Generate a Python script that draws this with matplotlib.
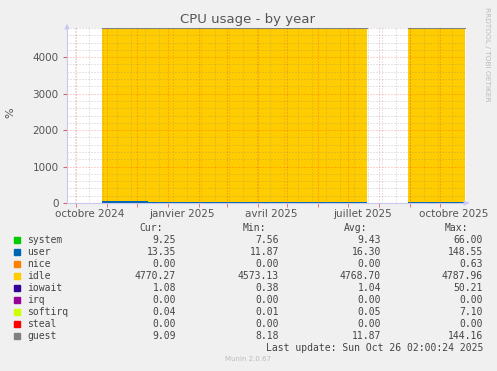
import numpy as np
import pandas as pd
import matplotlib
matplotlib.use("Agg")
import matplotlib.pyplot as plt
import matplotlib.dates as mdates

# data segments (start, end); the gap Jul 20 - Aug 30 2025 has no data
seg_start = ["2024-10-27", "2024-12-12", "2025-08-30"]
seg_end = ["2024-12-12", "2025-07-20", "2025-10-26"]

names = ["system", "user", "nice", "idle", "iowait", "irq", "softirq", "steal", "guest"]
colors = ["#00CC00", "#0066B3", "#FF8000", "#FFCC00", "#330099",
          "#990099", "#CCFF00", "#FF0000", "#808080"]

system = [10.5, 9.3, 9.2]
user = [55.0, 13.5, 13.3]
nice = [0.02, 0.0, 0.0]
idle = [4715.0, 4764.0, 4765.0]
iowait = [1.6, 1.0, 1.1]
irq = [0.0, 0.0, 0.0]
softirq = [0.06, 0.05, 0.04]
steal = [0.0, 0.0, 0.0]
guest = [14.0, 10.2, 9.8]
series = [system, user, nice, idle, iowait, irq, softirq, steal, guest]

cur = ["9.25", "13.35", "0.00", "4770.27", "1.08", "0.00", "0.04", "0.00", "9.09"]
mins = ["7.56", "11.87", "0.00", "4573.13", "0.38", "0.00", "0.01", "0.00", "8.18"]
avg = ["9.43", "16.30", "0.00", "4768.70", "1.04", "0.00", "0.05", "0.00", "11.87"]
maxs = ["66.00", "148.55", "0.63", "4787.96", "50.21", "0.00", "7.10", "0.00", "144.16"]

x_start = pd.Timestamp("2024-09-22")
x_end = pd.Timestamp("2025-10-27")
label_dates = ["2024-10-01", "2025-01-01", "2025-04-01", "2025-07-01", "2025-10-01"]
label_text = ["octobre 2024", "janvier 2025", "avril 2025", "juillet 2025", "octobre 2025"]

W, H = 497, 371
fig = plt.figure(figsize=(W / 100, H / 100), dpi=100)
fig.patch.set_facecolor("#F0F0F0")
ax = fig.add_axes([67 / W, 1 - 203 / H, 399 / W, 175 / H])
ax.set_facecolor("white")

for s, e, *vals in zip(seg_start, seg_end, *series):
    xs = mdates.date2num([pd.Timestamp(s), pd.Timestamp(e)])
    base = 0.0
    for v, c in zip(vals, colors):
        ax.fill_between(xs, base, base + v, color=c, linewidth=0, zorder=1)
        base += v
    # top edge of the stack (guest line)
    ax.plot(xs, [base, base], color="#808080", lw=0.8, zorder=2)

ax.set_xlim(mdates.date2num(x_start), mdates.date2num(x_end))
ax.set_ylim(0, 4800)

# grid drawn over data like rrdtool
minor_kw = dict(color="#808080", alpha=0.4, lw=0.72, ls=(0, (1, 2)), zorder=3)
major_kw = dict(color="#ff0000", alpha=0.35, lw=0.72, ls=(0, (1, 2)), zorder=3)
for yv in range(200, 4801, 200):
    ax.axhline(yv, **(major_kw if yv % 1000 == 0 else minor_kw))

weeks = pd.date_range("2024-09-30", x_end, freq="14D")
for d in weeks:
    ax.axvline(mdates.date2num(d), **minor_kw)
months = pd.date_range("2024-10-01", x_end, freq="MS")
for d in months:
    ax.axvline(mdates.date2num(d), **major_kw)

for sp in ["top", "right"]:
    ax.spines[sp].set_visible(False)
for sp in ["left", "bottom"]:
    ax.spines[sp].set_color("#c8c8f0")
    ax.spines[sp].set_linewidth(0.8)
    ax.spines[sp].set_zorder(4)

# arrows at the axis ends
ax.annotate("", xy=(0, 1.04), xytext=(0, 0.98), xycoords="axes fraction",
            arrowprops=dict(arrowstyle="-|>", color="#c8c8f0", lw=0.8,
                            mutation_scale=7), annotation_clip=False)
ax.annotate("", xy=(1.015, 0), xytext=(0.995, 0), xycoords="axes fraction",
            arrowprops=dict(arrowstyle="-|>", color="#c8c8f0", lw=0.8,
                            mutation_scale=7), annotation_clip=False)

ax.set_yticks([0, 1000, 2000, 3000, 4000])
ax.tick_params(axis="y", length=3, color="#e06060", labelsize=7.5,
               labelcolor="#555555", pad=3)
ax.set_xticks(mdates.date2num([pd.Timestamp(d) + pd.Timedelta(days=14) for d in label_dates]))
ax.set_xticklabels(label_text)
ax.tick_params(axis="x", which="major", length=0, labelsize=7.5,
               labelcolor="#555555", pad=4)
ax.set_xticks(mdates.date2num(months), minor=True)
ax.tick_params(axis="x", which="minor", length=3, color="#e06060")

fig.text(248 / W, 1 - 19 / H, "CPU usage - by year", ha="center", va="center",
         fontsize=9.5, color="#555555")
fig.text(10 / W, 1 - 113 / H, "%", ha="center", va="center", rotation=90,
         fontsize=8, color="#555555")
fig.text(487 / W, 1 - 54 / H, "RRDTOOL / TOBI OETIKER", ha="center", va="center",
         rotation=270, fontsize=5.3, color="#bbbbbb")

mono = dict(family="DejaVu Sans Mono", fontsize=7, color="#444444", va="center")
row0 = 240
fig.text(163 / W, 1 - 228 / H, "Cur:", ha="right", **mono)
fig.text(266 / W, 1 - 228 / H, "Min:", ha="right", **mono)
fig.text(367 / W, 1 - 228 / H, "Avg:", ha="right", **mono)
fig.text(468 / W, 1 - 228 / H, "Max:", ha="right", **mono)
for i, n in enumerate(names):
    y = 1 - (row0 + 12 * i) / H
    fig.patches.append(plt.Rectangle((14 / W, y - 3 / H), 6 / W, 6 / H,
                                     transform=fig.transFigure, color=colors[i]))
    fig.text(27 / W, y, n, ha="left", **mono)
    fig.text(176 / W, y, cur[i], ha="right", **mono)
    fig.text(279 / W, y, mins[i], ha="right", **mono)
    fig.text(381 / W, y, avg[i], ha="right", **mono)
    fig.text(483 / W, y, maxs[i], ha="right", **mono)

fig.text(483 / W, 1 - 348 / H, "Last update: Sun Oct 26 02:00:24 2025", ha="right", **mono)
fig.text(248 / W, 1 - 359 / H, "Munin 2.0.67", ha="center", va="center",
         fontsize=5, color="#bbbbbb")

fig.savefig("out.png", dpi=100, facecolor=fig.get_facecolor())
